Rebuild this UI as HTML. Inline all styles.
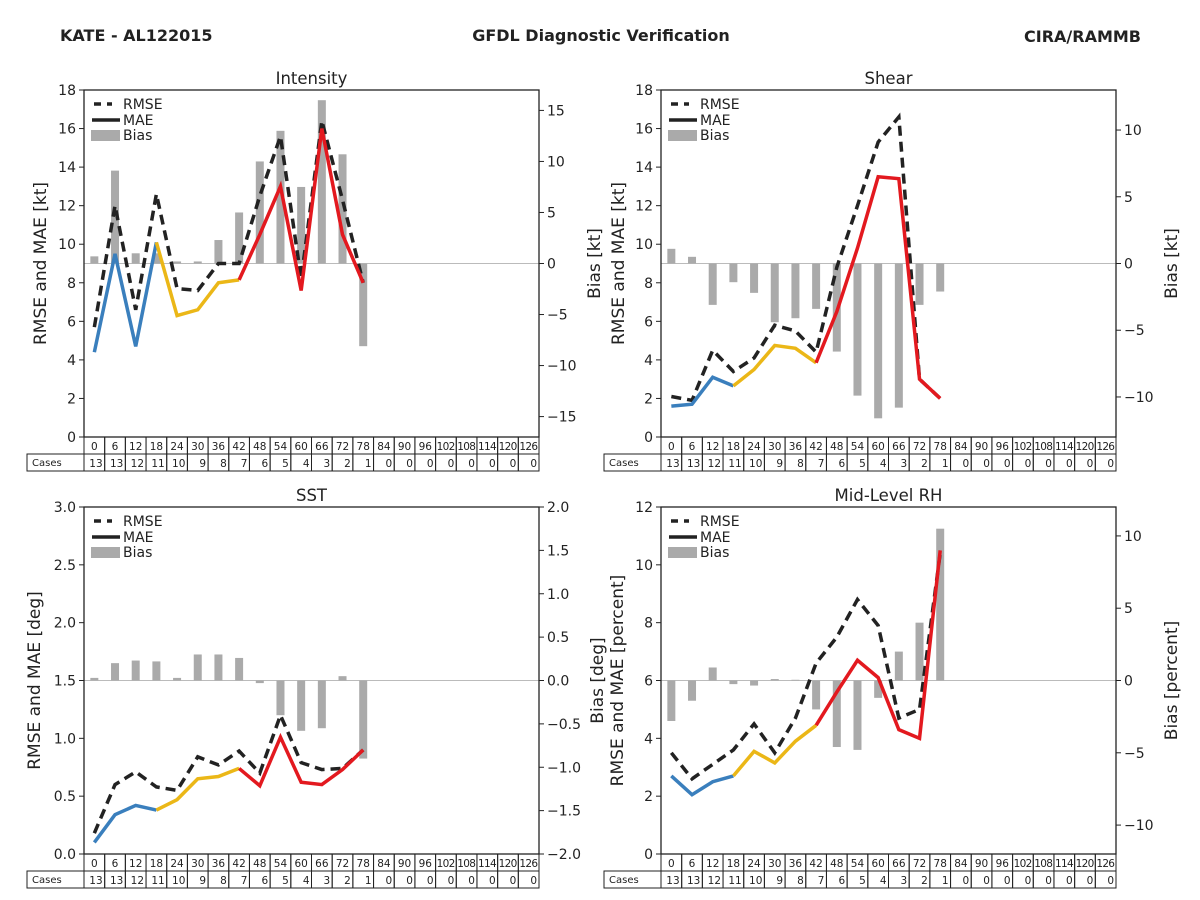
<!DOCTYPE html>
<html><head><meta charset="utf-8"><style>
body{margin:0;background:#fff;}
svg{display:block;font-family:"DejaVu Sans","Liberation Sans",sans-serif;}
</style></head><body>
<svg id="fig" width="1200" height="900" viewBox="0 0 1200 900">
<text x="60" y="41" font-size="16" font-weight="bold" fill="#222">KATE - AL122015</text>
<text x="601" y="41" font-size="16" font-weight="bold" fill="#222" text-anchor="middle">GFDL Diagnostic Verification</text>
<text x="1141" y="42" font-size="16" font-weight="bold" fill="#222" text-anchor="end">CIRA/RAMMB</text>
</svg>
<script>
const leads=[0,6,12,18,24,30,36,42,48,54,60,66,72,78,84,90,96,102,108,114,120,126];
const cases=[13,13,12,11,10,9,8,7,6,5,4,3,2,1,0,0,0,0,0,0,0,0];
const intRmse=[5.7,12.0,6.6,12.6,7.7,7.6,9.0,9.0,12.5,15.6,8.2,16.4,12.3,8.0];
const intMae=[4.4,9.5,4.7,10.1,6.3,6.6,8.0,8.15,10.5,13.0,7.6,16.0,10.5,8.0];
const intBias=[0.7,9.1,1.0,1.0,0.2,0.2,2.3,5.0,10.0,13.0,7.5,16.0,10.7,-8.1];
const intLeftTicks=[0,2,4,6,8,10,12,14,16,18];
const intRightTicks=[-15,-10,-5,0,5,10,15];
const shRmse=[2.1,1.9,4.5,3.4,4.1,5.8,5.5,4.4,8.8,12.0,15.3,16.6,3.0,2.0];
const shMae=[1.6,1.7,3.1,2.65,3.5,4.75,4.6,3.85,6.5,9.8,13.5,13.4,3.0,2.0];
const shBias=[1.1,0.5,-3.1,-1.4,-2.2,-4.4,-4.1,-3.4,-6.6,-9.9,-11.6,-10.8,-3.1,-2.1];
const shLeftTicks=[0,2,4,6,8,10,12,14,16,18];
const shRightTicks=[-10,-5,0,5,10];
const sstRmse=[0.18,0.6,0.71,0.58,0.55,0.84,0.77,0.89,0.7,1.2,0.79,0.73,0.74,0.9];
const sstMae=[0.1,0.34,0.42,0.38,0.47,0.65,0.67,0.74,0.59,1.01,0.62,0.6,0.73,0.9];
const sstBias=[0.03,0.2,0.23,0.22,0.03,0.3,0.3,0.26,-0.03,-0.4,-0.58,-0.55,0.05,-0.9];
const sstLeftTicks=[0,0.5,1.0,1.5,2.0,2.5,3.0];
const sstRightTicks=[-2,-1.5,-1,-0.5,0,0.5,1,1.5,2];
const rhRmse=[3.5,2.6,3.1,3.6,4.5,3.5,4.7,6.6,7.5,8.8,7.9,4.7,5.0,10.4];
const rhMae=[2.7,2.05,2.5,2.7,3.55,3.15,3.9,4.45,5.6,6.7,6.1,4.3,4.0,10.5];
const rhBias=[-2.8,-1.4,0.9,-0.25,-0.35,0.1,0.05,-2.0,-4.6,-4.8,-1.2,2.0,4.0,10.5];
const rhLeftTicks=[0,2,4,6,8,10,12];
const rhRightTicks=[-10,-5,0,5,10];

const NS='http://www.w3.org/2000/svg';
const svg=document.getElementById('fig');
function mk(tag,attrs,parent,text){const e=document.createElementNS(NS,tag);for(const k in attrs)if(attrs[k]!==undefined)e.setAttribute(k,attrs[k]);if(text!==undefined)e.textContent=text;(parent||svg).appendChild(e);return e;}
function fmt(v,dec){return (v<0?'\u2212':'')+Math.abs(v).toFixed(dec);}

function panel(p){
  const g=mk('g',{});
  
  
  const X0=p.x,X1=p.x+455,Y0=p.y,Y1=p.y+347,cw=(X1-X0)/22;
  const xs=i=>X0+cw*(i+0.5);
  const yl=v=>Y1-(v-p.lmin)/(p.lmax-p.lmin)*(Y1-Y0);
  const yr=v=>Y1-(v-p.rmin)/(p.rmax-p.rmin)*(Y1-Y0);
  const t=mk('text',{x:(X0+X1)/2,y:Y0-6,'font-size':16.5,'text-anchor':'middle',fill:'#222'},g,p.title);
  
  const z=mk('line',{x1:X0,x2:X1,y1:yr(0),y2:yr(0),stroke:'#bbb','stroke-width':1},g);
  
  p.bias.forEach((b,i)=>{
    const y0=yr(0),y1=yr(b);
    const r=mk('rect',{x:xs(i)-4,y:Math.min(y0,y1),width:8,height:Math.abs(y1-y0),fill:'#aaa'},g);
    
    
  });
  const rp=mk('polyline',{points:p.rmse.map((v,i)=>xs(i)+','+yl(v)).join(' '),fill:'none',stroke:'#222','stroke-width':3.5,'stroke-dasharray':'10,6'},g);
  
  const segs=[[0,3,'#3a7fbd','blue'],[3,7,'#ebb717','yellow'],[7,13,'#e3191f','red']];
  segs.forEach(s=>{
    const pts=[];for(let i=s[0];i<=s[1]&&i<p.mae.length;i++)pts.push(xs(i)+','+yl(p.mae[i]));
    const l=mk('polyline',{points:pts.join(' '),fill:'none',stroke:s[2],'stroke-width':3.5},g);
    
  });
  const f=mk('rect',{x:X0,y:Y0,width:X1-X0,height:Y1-Y0,fill:'none',stroke:'#222','stroke-width':1.3},g);
  
  p.lt.forEach(v=>{
    mk('line',{x1:X0-5,x2:X0,y1:yl(v),y2:yl(v),stroke:'#222'},g);
    const tx=mk('text',{x:X0-8,y:yl(v)+5,'font-size':14,'text-anchor':'end',fill:'#222'},g,fmt(v,p.ldec));
    
  });
  p.rt.forEach(v=>{
    mk('line',{x1:X1,x2:X1+5,y1:yr(v),y2:yr(v),stroke:'#222'},g);
    const tx=mk('text',{x:X1+8,y:yr(v)+5,'font-size':14,fill:'#222'},g,fmt(v,p.rdec));
    
  });
  const ly=(Y0+Y1)/2;
  const yl1=mk('text',{x:0,y:0,'font-size':17,'text-anchor':'middle',fill:'#222',transform:`translate(${p.llx},${ly}) rotate(-90)`},g,p.lylab);
  
  const yl2=mk('text',{x:0,y:0,'font-size':17,'text-anchor':'middle',fill:'#222',transform:`translate(${p.rlx},${ly}) rotate(-90)`},g,p.rylab);
  
  const lg=mk('g',{},g);
  mk('line',{x1:X0+10,x2:X0+28,y1:Y0+14,y2:Y0+14,stroke:'#222','stroke-width':3.5,'stroke-dasharray':'7,6'},lg);
  mk('text',{x:X0+39,y:Y0+19,'font-size':14,fill:'#222'},lg,'RMSE');
  mk('line',{x1:X0+8,x2:X0+36,y1:Y0+30,y2:Y0+30,stroke:'#222','stroke-width':3.5},lg);
  mk('text',{x:X0+39,y:Y0+35,'font-size':14,fill:'#222'},lg,'MAE');
  mk('rect',{x:X0+7,y:Y0+40,width:29,height:11,fill:'#aaa'},lg);
  mk('text',{x:X0+39,y:Y0+50,'font-size':14,fill:'#222'},lg,'Bias');
  const tb=mk('g',{},g);
  const T0=Y1,T1=Y1+17,T2=Y1+34;
  mk('rect',{x:X0-57,y:T1,width:57,height:17,fill:'none',stroke:'#222'},tb);
  mk('text',{x:X0-52,y:T2-5,'font-size':10,fill:'#222'},tb,'Cases');
  leads.forEach((L,i)=>{
    const cx=X0+cw*i;
    mk('rect',{x:cx,y:T0,width:cw,height:17,fill:'none',stroke:'#222'},tb);
    mk('rect',{x:cx,y:T1,width:cw,height:17,fill:'none',stroke:'#222'},tb);
    mk('text',{x:cx+cw/2,y:T1-4,'font-size':10.5,'text-anchor':'middle',fill:'#222','textLength':String(L).length>2?cw-2:undefined},tb,String(L));
    mk('text',{x:cx+cw-2,y:T2-4,'font-size':10.5,'text-anchor':'end',fill:'#222'},tb,String(cases[i]));
  });
}
panel({id:'intensity',title:'Intensity',x:84,y:90,lmin:0,lmax:18,rmin:-17,rmax:17,rmse:intRmse,mae:intMae,bias:intBias,lt:intLeftTicks,rt:intRightTicks,ldec:0,rdec:0,lylab:'RMSE and MAE [kt]',rylab:'Bias [kt]',llx:46,rlx:600});
panel({id:'shear',title:'Shear',x:661,y:90,lmin:0,lmax:18,rmin:-13,rmax:13,rmse:shRmse,mae:shMae,bias:shBias,lt:shLeftTicks,rt:shRightTicks,ldec:0,rdec:0,lylab:'RMSE and MAE [kt]',rylab:'Bias [kt]',llx:624,rlx:1177});
panel({id:'sst',title:'SST',x:84,y:507,lmin:0,lmax:3,rmin:-2,rmax:2,rmse:sstRmse,mae:sstMae,bias:sstBias,lt:sstLeftTicks,rt:sstRightTicks,ldec:1,rdec:1,lylab:'RMSE and MAE [deg]',rylab:'Bias [deg]',llx:40,rlx:603});
panel({id:'rh',title:'Mid-Level RH',x:661,y:507,lmin:0,lmax:12,rmin:-12,rmax:12,rmse:rhRmse,mae:rhMae,bias:rhBias,lt:rhLeftTicks,rt:rhRightTicks,ldec:0,rdec:0,lylab:'RMSE and MAE [percent]',rylab:'Bias [percent]',llx:623,rlx:1177});
</script>
</body></html>
